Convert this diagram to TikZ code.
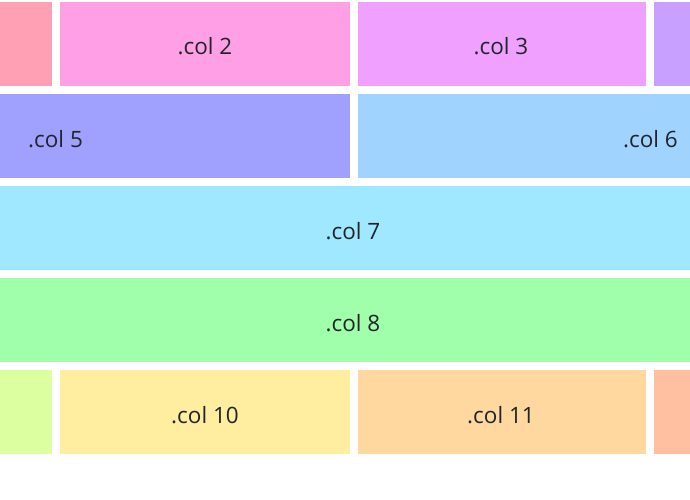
\documentclass[tikz,border=0pt]{standalone}
\usepackage{fontspec}
\setmainfont{Open Sans}
\definecolor{c1}{HTML}{FFA0B4}
\definecolor{c2}{HTML}{FFA0E6}
\definecolor{c3}{HTML}{F0A0FF}
\definecolor{c4}{HTML}{C8A0FF}
\definecolor{c5}{HTML}{A0A0FF}
\definecolor{c6}{HTML}{A0D4FF}
\definecolor{c7}{HTML}{A0E8FF}
\definecolor{c8}{HTML}{A0FFAA}
\definecolor{c9}{HTML}{DCFFA0}
\definecolor{c10}{HTML}{FFEEA0}
\definecolor{c11}{HTML}{FFD8A0}
\definecolor{c12}{HTML}{FFBFA0}
\definecolor{txt}{HTML}{212529}
\tikzset{
  lbl/.style={inner sep=0pt, text=txt, font=\fontsize{22.5}{26}\selectfont, anchor=base},
}
\begin{document}
\begin{tikzpicture}[x=1pt,y=-1pt]
\useasboundingbox[fill=white] (0,0) rectangle (690,500);
% row 1
\fill[c1] (0,2) rectangle (52,86);
\fill[c2] (60,2) rectangle (349.5,86);
\fill[c3] (357.5,2) rectangle (645.5,86);
\fill[c4] (653.5,2) rectangle (690,86);
\node[lbl] (t2) at (205,55) {.col 2};
\node[lbl] (t3) at (501,55) {.col 3};
% row 2
\fill[c5] (0,94) rectangle (349.5,178);
\fill[c6] (357.5,94) rectangle (690,178);
\node[lbl, anchor=base west] (t5) at (28,147) {.col 5};
\node[lbl, anchor=base east] (t6) at (678,147) {.col 6};
% row 3
\fill[c7] (0,186) rectangle (690,270);
\node[lbl] (t7) at (353,239) {.col 7};
% row 4
\fill[c8] (0,278) rectangle (690,362);
\node[lbl] (t8) at (353,331) {.col 8};
% row 5
\fill[c9] (0,370) rectangle (52,454);
\fill[c10] (60,370) rectangle (349.5,454);
\fill[c11] (357.5,370) rectangle (645.5,454);
\fill[c12] (653.5,370) rectangle (690,454);
\node[lbl] (t10) at (205,423) {.col 10};
\node[lbl] (t11) at (501,423) {.col 11};
\end{tikzpicture}
\end{document}
